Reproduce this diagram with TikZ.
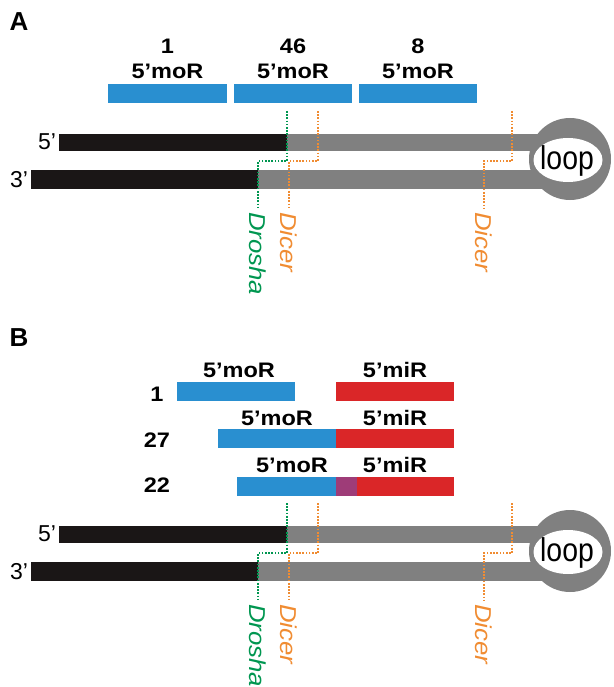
\documentclass[tikz,border=0pt]{standalone}
\usepackage{fontspec}
\setmainfont{Liberation Sans}
\newfontfamily\barfont[FakeStretch=1.12]{Liberation Sans}
\newfontfamily\cutfont[FakeStretch=1.12]{Liberation Sans}
\newfontfamily\loopfont[FakeStretch=0.86]{Liberation Sans}
\usepackage{tikz}
\usetikzlibrary{positioning}
\definecolor{moblue}{RGB}{41,143,208}
\definecolor{mired}{RGB}{218,38,40}
\definecolor{mixpurple}{RGB}{158,60,120}
\definecolor{strandblack}{RGB}{26,22,22}
\definecolor{strandgray}{RGB}{128,128,128}
\definecolor{droshagreen}{RGB}{0,150,80}
\definecolor{dicerorange}{RGB}{240,140,50}

\begin{document}
\begin{tikzpicture}[x=1pt,y=-1pt,
	bar/.style={inner sep=0pt,outer sep=0pt,minimum height=19pt},
	mor bar/.style={bar,fill=moblue},
	mir bar/.style={bar,fill=mired},
	mix bar/.style={bar,fill=mixpurple},
	bar label/.style={inner sep=0pt,font=\barfont\bfseries\fontsize{21}{21}\selectfont},
	end label/.style={inner sep=0pt,font=\fontsize{23}{23}\selectfont},
	panel label/.style={inner sep=0pt,font=\bfseries\fontsize{26}{26}\selectfont},
	loop label/.style={inner sep=0pt,font=\loopfont\fontsize{33}{33}\selectfont},
	cut label/.style={inner sep=0pt,rotate=-90,anchor=west,font=\cutfont\itshape\fontsize{23}{23}\selectfont},
	cut/.style={line width=1.9pt,dash pattern=on 1.7pt off 1.5pt}]

	\useasboundingbox (0,0) rectangle (613,687);

	\node[panel label] (A) at (19,22) {A};
	\node[panel label] (B) at (19,338) {B};

	\node[mor bar,minimum width=119pt] (a1) at (167.5,93.5) {};
	\node[mor bar,minimum width=118pt] (a2) at (293,93.5) {};
	\node[mor bar,minimum width=118pt] (a3) at (418,93.5) {};
	\node[bar label,above=5pt of a1] (a1l) {5’moR};
	\node[bar label,above=5pt of a2] (a2l) {5’moR};
	\node[bar label,above=5pt of a3] (a3l) {5’moR};
	\node[bar label,above=10pt of a1l] (a1n) {1};
	\node[bar label,above=10pt of a2l] (a2n) {46};
	\node[bar label,above=10pt of a3l] (a3n) {8};

	\node[mor bar,minimum width=118pt] (b1) at (236,391) {};
	\node[mir bar,minimum width=118pt] (c1) at (395,391) {};
	\node[mor bar,minimum width=118pt] (b2) at (277,438) {};
	\node[mir bar,minimum width=118pt] (c2) at (395,438) {};
	\node[mor bar,minimum width=99pt] (b3) at (286.5,486) {};
	\node[mix bar,minimum width=21pt] (m3) at (346.5,486) {};
	\node[mir bar,minimum width=97pt] (c3) at (405.5,486) {};
	\node[bar label,above=3.5pt of b1,xshift=3pt] (b1l) {5’moR};
	\node[bar label,above=3.5pt of c1] (c1l) {5’miR};
	\node[bar label,above=3pt of b2] (b2l) {5’moR};
	\node[bar label,above=3pt of c2] (c2l) {5’miR};
	\node[bar label,above=4pt of b3,xshift=5.5pt] (b3l) {5’moR};
	\node[bar label,above=4pt of c3,xshift=-10.5pt] (c3l) {5’miR};
	\node[bar label] (b1n) at (157,394) {1};
	\node[bar label] (b2n) at (157,440) {27};
	\node[bar label] (b3n) at (157,485) {22};

	\foreach \p/\dy in {a/0,b/392}{
		\begin{scope}[yshift=-\dy pt]
			\fill[strandblack] (59,134) rectangle (287,151);
			\fill[strandgray] (287,134) rectangle (548,151);
			\fill[strandblack] (31,170) rectangle (258,189);
			\fill[strandgray] (258,170) rectangle (548,189);
			\fill[strandgray] (570,159) circle (41pt);
			\fill[white] (568,160) ellipse (34.5pt and 22pt);
			\node[loop label] (loop\p) at (567,161) {loop};
			\node[end label] (five\p) at (47,142) {5’};
			\node[end label] (three\p) at (19,180) {3’};

			\coordinate (drotop\p) at (287,111);
			\coordinate (drobend\p) at (287,161);
			\coordinate (dicAtop\p) at (318,111);
			\coordinate (dicAbend\p) at (318,161);
			\coordinate (dicBtop\p) at (512,111);
			\coordinate (dicBbend\p) at (512,161);
			\node[cut label,text=droshagreen] (drosha\p) at (258,212) {Drosha};
			\node[cut label,text=dicerorange] (dicerA\p) at (289,212) {Dicer};
			\node[cut label,text=dicerorange] (dicerB\p) at (484,212) {Dicer};

			\draw[cut,droshagreen] (drotop\p) -- (drobend\p) -| ([yshift=4pt]drosha\p.west);
			\draw[cut,dicerorange] (dicAtop\p) -- (dicAbend\p) -| ([yshift=4pt]dicerA\p.west);
			\draw[cut,dicerorange] (dicBtop\p) -- (dicBbend\p) -| ([yshift=4pt]dicerB\p.west);
		\end{scope}
	}
\end{tikzpicture}
\end{document}
